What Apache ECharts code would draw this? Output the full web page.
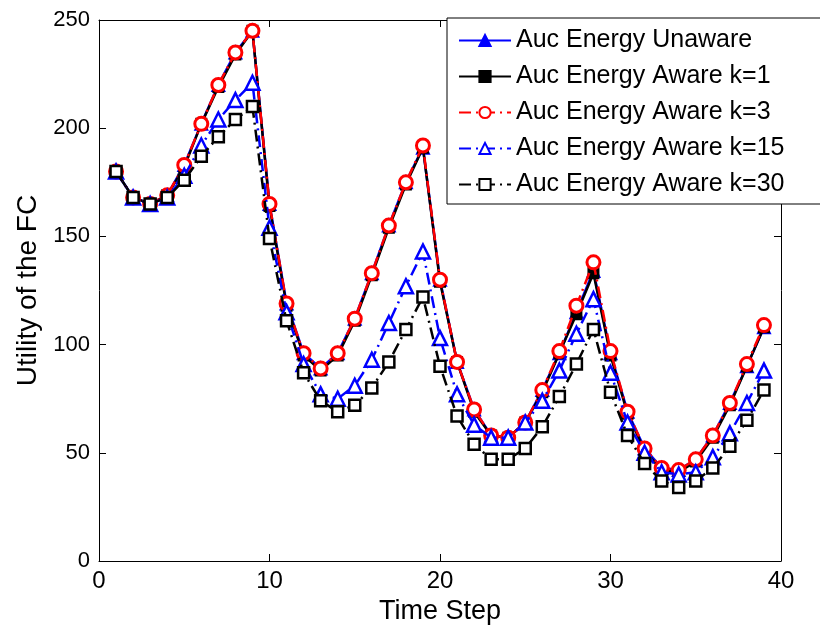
<!DOCTYPE html>
<html>
<head>
<meta charset="utf-8">
<script src="https://cdn.jsdelivr.net/npm/echarts@6/dist/echarts.min.js"></script>
<style>
html,body{margin:0;padding:0;background:#fff;}
#chart{width:820px;height:631px;}
</style>
</head>
<body>
<div id="chart"></div>
<script>
var timeSteps = [1,2,3,4,5,6,7,8,9,10,11,12,13,14,15,16,17,18,19,20,21,22,23,24,25,26,27,28,29,30,31,32,33,34,35,36,37,38,39];
var seriesNames = ['Auc Energy Unaware','Auc Energy Aware k=1','Auc Energy Aware k=3','Auc Energy Aware k=15','Auc Energy Aware k=30'];
var unaware = [180,168,165,169,183,202,220,235,245,165,119,96,89,96,112,133,155,175,191,130,92,70,58,57,64,79,96,115,134,96,69,52,43,42,47,58,73,90,108];
var awareK1 = [180,168,165,169,182,202,219,234,245,164,118,95,88,95,111,132,154,174,191,129,92,69,58,57,64,78,96,114,133,95,68,51,42,41,46,57,72,90,108];
var awareK3 = [180,168,165,169,183,202,220,235,245,165,119,96,89,96,112,133,155,175,192,130,92,70,58,57,64,79,97,118,138,97,69,52,43,42,47,58,73,91,109];
var awareK15 = [180,168,165,168,178,192,204,213,221,154,115,91,77,75,81,93,110,127,143,103,77,63,57,57,64,74,88,105,121,87,64,50,41,40,41,48,59,73,88];
var awareK30 = [180,168,165,168,176,187,196,204,210,149,111,87,74,69,72,80,92,107,122,90,67,54,47,47,52,62,76,91,107,78,58,45,37,34,37,43,53,65,79];
var xTicks = [0,10,20,30,40];
var yTicks = [0,50,100,150,200,250];

function pairs(arr){ return timeSteps.map(function(t,i){ return [t, arr[i]]; }); }

var font = 'Liberation Sans, Arial, sans-serif';
var dashDot = [12,5,2,5];

var chart = echarts.init(document.getElementById('chart'), null, {renderer:'canvas'});
function axisCommon(){
  return {
    axisLine:{show:true, onZero:false, lineStyle:{color:'#000', width:1}},
    axisTick:{show:true, inside:true, length:7, lineStyle:{color:'#000', width:1}},
    splitLine:{show:false}
  };
}
chart.setOption({
  animation:false,
  backgroundColor:'#fff',
  grid:{left:99, right:39, top:20, bottom:70, containLabel:false},
  legend:{
    orient:'vertical', left:447, top:18,
    padding:[10,40,7,11],
    itemWidth:52, itemHeight:14, itemGap:11,
    backgroundColor:'#fff', borderColor:'#000', borderWidth:1,
    textStyle:{fontFamily:font, fontSize:25, color:'#000'},
    data:seriesNames
  },
  xAxis:[
    Object.assign({type:'value', min:xTicks[0], max:xTicks[xTicks.length-1], interval:10, position:'bottom',
      name:'Time Step', nameLocation:'middle', nameGap:33,
      nameTextStyle:{fontFamily:font, fontSize:27, color:'#000'},
      axisLabel:{fontFamily:font, fontSize:24, color:'#000', margin:8}}, axisCommon()),
    Object.assign({type:'value', min:xTicks[0], max:xTicks[xTicks.length-1], interval:10, position:'top',
      axisLabel:{show:false}}, axisCommon())
  ],
  yAxis:[
    Object.assign({type:'value', min:yTicks[0], max:yTicks[yTicks.length-1], interval:50, position:'left',
      name:'Utility of the FC', nameLocation:'middle', nameGap:56, nameRotate:90,
      nameTextStyle:{fontFamily:font, fontSize:28, color:'#000'},
      axisLabel:{fontFamily:font, fontSize:22, color:'#000', margin:9}}, axisCommon()),
    Object.assign({type:'value', min:yTicks[0], max:yTicks[yTicks.length-1], interval:50, position:'right',
      axisLabel:{show:false}}, axisCommon())
  ],
  series:[
    {name:seriesNames[0], type:'line', data:pairs(unaware), symbol:'triangle', symbolSize:12,
     lineStyle:{color:'#0000ff', width:2.5, type:'solid'},
     itemStyle:{color:'#0000ff', borderColor:'#0000ff', borderWidth:2}, z:2},
    {name:seriesNames[1], type:'line', data:pairs(awareK1), symbol:'rect', symbolSize:10,
     lineStyle:{color:'#000', width:2.5, type:'solid'},
     itemStyle:{color:'#000', borderColor:'#000', borderWidth:2}, z:3},
    {name:seriesNames[2], type:'line', data:pairs(awareK3), symbol:'circle', symbolSize:13,
     lineStyle:{color:'#ff0000', width:2.5, type:dashDot},
     itemStyle:{color:'#fff', borderColor:'#ff0000', borderWidth:3}, z:4},
    {name:seriesNames[3], type:'line', data:pairs(awareK15), symbol:'triangle', symbolSize:14,
     lineStyle:{color:'#0000ff', width:2.5, type:dashDot},
     itemStyle:{color:'#fff', borderColor:'#0000ff', borderWidth:2.5}, z:5},
    {name:seriesNames[4], type:'line', data:pairs(awareK30), symbol:'rect', symbolSize:11,
     lineStyle:{color:'#000', width:2.5, type:dashDot},
     itemStyle:{color:'#fff', borderColor:'#000', borderWidth:2.5}, z:6}
  ]
});
</script>
</body>
</html>
